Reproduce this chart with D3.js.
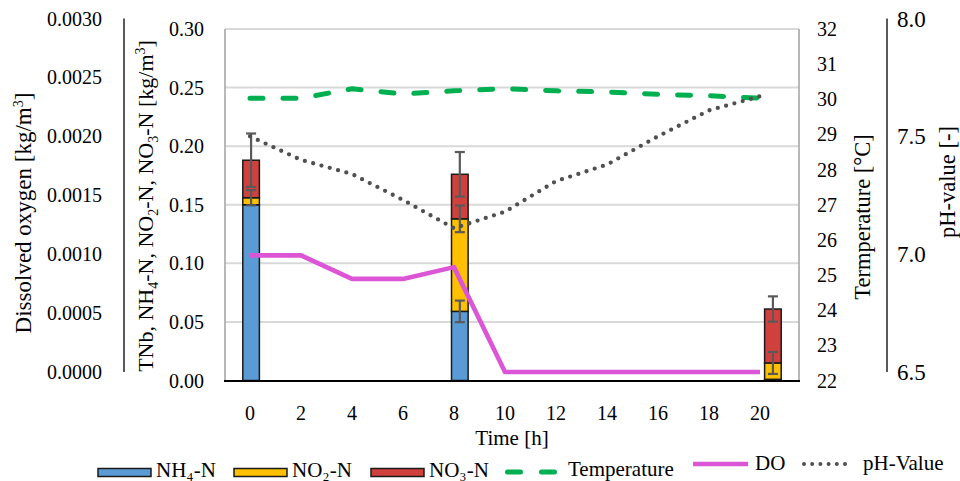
<!DOCTYPE html>
<html><head><meta charset="utf-8">
<script src="https://cdn.jsdelivr.net/npm/d3@7"></script>
<style>html,body{margin:0;padding:0;background:#fff;} svg{display:block;}</style>
</head><body>
<svg id="chart" width="960" height="481"></svg>
<script>
// ---- data ----
const hours = [0, 2, 4, 6, 8, 10, 12, 14, 16, 18, 20];
const barHours = [0, 8, 20];
const nh4 = [0.150, 0.059, 0.001];
const no2 = [0.006, 0.079, 0.014];
const no3 = [0.032, 0.038, 0.046];
const nh4Err = [0.0, 0.0092, 0.0];
const no2Err = [0.0065, 0.0114, 0.0094];
const no3Err = [0.0228, 0.019, 0.0108];
const doValues = [0.00099, 0.00099, 0.00079, 0.00079, 0.00089, 0, 0, 0, 0, 0, 0];
const tempValues = [30.03, 30.03, 30.3, 30.15, 30.24, 30.3, 30.24, 30.21, 30.14, 30.1, 30.03];
const phValues = [7.50, 7.40, 7.34, 7.23, 7.11, 7.18, 7.31, 7.38, 7.50, 7.61, 7.67];
const nTicks = [0, 0.05, 0.10, 0.15, 0.20, 0.25, 0.30];
const doTicks = [0, 0.0005, 0.0010, 0.0015, 0.0020, 0.0025, 0.0030];
const tempTicks = [22, 23, 24, 25, 26, 27, 28, 29, 30, 31, 32];
const phTicks = [6.5, 7.0, 7.5, 8.0];
const seriesNames = ["NH₄-N", "NO₂-N", "NO₃-N"];
const colors = ["#5B9BD5", "#FFC000", "#D0413D"];

const FONT = "'Liberation Serif', 'Times New Roman', serif";
const svg = d3.select("#chart");
const L = 225, R = 799, T = 29, B = 380.5;

const xBand = d3.scaleBand().domain(hours).range([L, R]).paddingInner(0.682).paddingOuter(0.341);
const xLine = d3.scaleLinear().domain([-0.98, 21.53]).range([L, R]);
const yN = d3.scaleLinear().domain([0, 0.30]).range([B, T]);
const yDO = d3.scaleLinear().domain([0, 0.003]).range([372, 18.5]);
const yT = d3.scaleLinear().domain([22, 32]).range([B, T]);
const yPH = d3.scaleLinear().domain([6.5, 8.0]).range([372, 18.5]);

// gridlines
svg.append("g").selectAll("line").data(nTicks.filter(d => d > 0)).join("line")
  .attr("x1", L).attr("x2", R).attr("y1", d => yN(d)).attr("y2", d => yN(d))
  .attr("stroke", "#D9D9D9").attr("stroke-width", 2);
svg.append("line").attr("x1", L).attr("x2", L).attr("y1", T).attr("y2", B).attr("stroke", "#A0A0A0").attr("stroke-width", 1.5);
svg.append("line").attr("x1", R).attr("x2", R).attr("y1", T).attr("y2", B).attr("stroke", "#A0A0A0").attr("stroke-width", 1.5);

// stacked bars
const stackData = barHours.map((h, i) => ({h, v: [nh4[i], no2[i], no3[i]], e: [nh4Err[i], no2Err[i], no3Err[i]]}));
const segs = [];
stackData.forEach(d => {
  let base = 0;
  d.v.forEach((v, k) => { segs.push({h: d.h, y0: base, y1: base + v, k, err: d.e[k]}); base += v; });
});
svg.append("g").selectAll("rect").data(segs).join("rect")
  .attr("x", d => xBand(d.h)).attr("width", xBand.bandwidth())
  .attr("y", d => yN(d.y1)).attr("height", d => yN(d.y0) - yN(d.y1))
  .attr("fill", d => colors[d.k]).attr("stroke", "#1a1a1a").attr("stroke-width", 1.5);

// error bars
const eb = svg.append("g").attr("stroke", "#595959").attr("stroke-width", 2.2);
segs.filter(d => d.err > 0).forEach(d => {
  const cx = xBand(d.h) + xBand.bandwidth() / 2;
  const yTop = yN(d.y1 + d.err), yBot = yN(d.y1 - d.err);
  eb.append("line").attr("x1", cx).attr("x2", cx).attr("y1", yTop).attr("y2", yBot);
  eb.append("line").attr("x1", cx - 5).attr("x2", cx + 5).attr("y1", yTop).attr("y2", yTop);
  eb.append("line").attr("x1", cx - 5).attr("x2", cx + 5).attr("y1", yBot).attr("y2", yBot);
});

svg.append("line").attr("x1", L - 1).attr("x2", R + 1).attr("y1", B + 0.5).attr("y2", B + 0.5).attr("stroke", "#000").attr("stroke-width", 2.2);

// lines
const lineGen = (ys, vals) => d3.line().x((d, i) => xLine(hours[i])).y((d, i) => ys(vals[i]));
svg.append("path").attr("d", lineGen(yT, tempValues)(hours)).attr("fill", "none")
  .attr("stroke", "#00B050").attr("stroke-width", 5).attr("stroke-dasharray", "13 20").attr("stroke-linecap", "round");
svg.append("path").attr("d", lineGen(yDO, doValues)(hours)).attr("fill", "none")
  .attr("stroke", "#DC55D6").attr("stroke-width", 4.6).attr("stroke-linejoin", "round");
svg.append("path").attr("d", lineGen(yPH, phValues)(hours)).attr("fill", "none")
  .attr("stroke", "#505050").attr("stroke-width", 4.3).attr("stroke-dasharray", "0 8.6").attr("stroke-linecap", "round");

const tickFont = 20;
const txt = (sel) => sel.attr("font-family", FONT).attr("fill", "#000");
// x ticks
svg.append("g").selectAll("text").data(hours).join("text").call(txt)
  .attr("x", d => xLine(d)).attr("y", 420).attr("text-anchor", "middle")
  .attr("font-size", tickFont).text(d => d);
svg.append("text").call(txt).attr("x", 512).attr("y", 445).attr("text-anchor", "middle").attr("font-size", 21).text("Time [h]");

// N axis
svg.append("g").selectAll("text").data(nTicks).join("text").call(txt)
  .attr("x", 204).attr("y", d => yN(d)).attr("dy", "0.35em").attr("text-anchor", "end")
  .attr("font-size", tickFont).text(d3.format(".2f"));
const nt = svg.append("text").call(txt).attr("transform", "translate(153,206) rotate(-90)").attr("text-anchor", "middle").attr("font-size", 22);
const parts = [["TNb, NH", 0], ["4", 1], ["-N, NO", 0], ["2", 1], ["-N, NO", 0], ["3", 1], ["-N [kg/m", 0], ["3", 2], ["]", 0]];
let prev = 0;
parts.forEach(([t, s]) => {
  const shift = s === 1 ? 5 : s === 2 ? -8 : 0;
  nt.append("tspan").attr("dy", shift - prev).attr("font-size", s ? 14 : 22).text(t);
  prev = shift;
});

// DO axis
svg.append("line").attr("x1", 124).attr("x2", 124).attr("y1", yDO(0.003)).attr("y2", yDO(0)).attr("stroke", "#000").attr("stroke-width", 1.3);
svg.append("g").selectAll("text").data(doTicks).join("text").call(txt)
  .attr("x", 102).attr("y", d => yDO(d)).attr("dy", "0.35em").attr("text-anchor", "end")
  .attr("font-size", tickFont).text(d3.format(".4f"));
const dt = svg.append("text").call(txt).attr("transform", "translate(31,213) rotate(-90)").attr("text-anchor", "middle").attr("font-size", 23);
dt.append("tspan").text("Dissolved oxygen [kg/m");
dt.append("tspan").attr("dy", -8).attr("font-size", 14).text("3");
dt.append("tspan").attr("dy", 8).text("]");

// Temperature axis
svg.append("g").selectAll("text").data(tempTicks).join("text").call(txt)
  .attr("x", 817).attr("y", d => yT(d)).attr("dy", "0.35em").attr("text-anchor", "start")
  .attr("font-size", tickFont).text(d => d);
svg.append("text").call(txt).attr("transform", "translate(870,217) rotate(-90)").attr("text-anchor", "middle").attr("font-size", 22.5).text("Termperature [°C]");

// pH axis
svg.append("line").attr("x1", 887).attr("x2", 887).attr("y1", yPH(8)).attr("y2", yPH(6.5)).attr("stroke", "#000").attr("stroke-width", 1.3);
svg.append("g").selectAll("text").data(phTicks).join("text").call(txt)
  .attr("x", 897).attr("y", d => yPH(d)).attr("dy", "0.35em").attr("text-anchor", "start")
  .attr("font-size", 23).text(d3.format(".1f"));
svg.append("text").call(txt).attr("transform", "translate(955,182) rotate(-90)").attr("text-anchor", "middle").attr("font-size", 22.5).text("pH-value [-]");

// legend
const lg = svg.append("g");
const swX = [98, 234, 371];
seriesNames.forEach((n, k) => {
  lg.append("rect").attr("x", swX[k]).attr("y", 468.5).attr("width", 53).attr("height", 8)
    .attr("fill", colors[k]).attr("stroke", "#1a1a1a").attr("stroke-width", 1.5);
  lg.append("text").call(txt).attr("x", swX[k] + 58).attr("y", 477).attr("font-size", 21).text(n);
});
lg.append("line").attr("x1", 507.5).attr("x2", 554.5).attr("y1", 472).attr("y2", 472)
  .attr("stroke", "#00B050").attr("stroke-width", 5).attr("stroke-dasharray", "13 21").attr("stroke-linecap", "round");
lg.append("text").call(txt).attr("x", 568).attr("y", 476).attr("font-size", 21).text("Temperature");
lg.append("line").attr("x1", 693).attr("x2", 748).attr("y1", 464).attr("y2", 464)
  .attr("stroke", "#DC55D6").attr("stroke-width", 4.6);
lg.append("text").call(txt).attr("x", 755).attr("y", 470).attr("font-size", 21).text("DO");
lg.append("line").attr("x1", 804).attr("x2", 853).attr("y1", 464).attr("y2", 464)
  .attr("stroke", "#505050").attr("stroke-width", 4).attr("stroke-dasharray", "0 8.2").attr("stroke-linecap", "round");
lg.append("text").call(txt).attr("x", 863).attr("y", 470).attr("font-size", 21).text("pH-Value");
</script>
</body></html>
